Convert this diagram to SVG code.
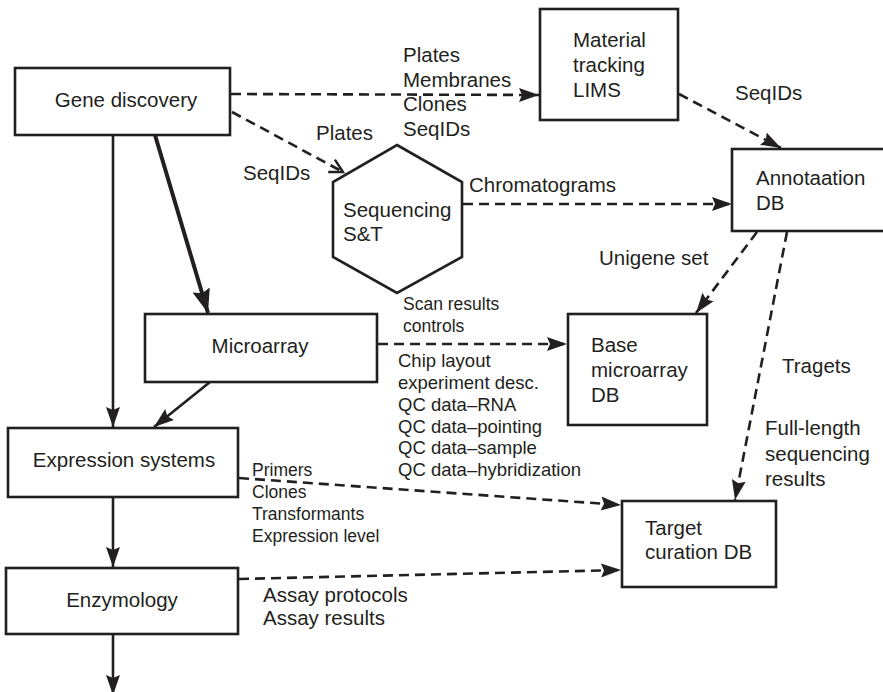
<svg xmlns="http://www.w3.org/2000/svg" width="883" height="692" viewBox="0 0 883 692">
  <style>
    .box { fill: #ffffff; stroke: #231f20; stroke-width: 2.6; }
    .t { font-family: "Liberation Sans", Arial, sans-serif; font-size: 20.5px; fill: #231f20; }
    .s { font-family: "Liberation Sans", Arial, sans-serif; font-size: 18.5px; fill: #231f20; }
    .xs { font-family: "Liberation Sans", Arial, sans-serif; font-size: 17.5px; fill: #231f20; }
    .solid { fill: none; stroke: #231f20; stroke-width: 2.6; }
    .thick { fill: none; stroke: #231f20; stroke-width: 4; }
    .dash { fill: none; stroke: #231f20; stroke-width: 2.6; stroke-dasharray: 10 6; }
  </style>
  <defs>
    <marker id="arr" markerUnits="userSpaceOnUse" markerWidth="22" markerHeight="16" refX="20" refY="8" orient="auto">
      <path d="M0,1 L20,8 L0,15 L3,8 z" fill="#231f20"/>
    </marker>
    <marker id="arrBig" markerUnits="userSpaceOnUse" markerWidth="26" markerHeight="20" refX="24" refY="10" orient="auto">
      <path d="M0,1 L24,10 L0,19 L3.5,10 z" fill="#231f20"/>
    </marker>
    <marker id="vee" markerUnits="userSpaceOnUse" markerWidth="18" markerHeight="18" refX="14" refY="9" orient="auto">
      <path d="M1,2 L14,9 L1,16" fill="none" stroke="#231f20" stroke-width="2.4"/>
    </marker>
  </defs>

  <!-- connectors -->
  <g id="connectors">
    <line class="dash" x1="231" y1="94" x2="539" y2="95" marker-end="url(#arr)"/>
    <line class="dash" x1="232" y1="112" x2="343" y2="172" marker-end="url(#vee)"/>
    <line class="solid" x1="113" y1="135" x2="113" y2="427" marker-end="url(#arr)"/>
    <line class="thick" x1="155" y1="135" x2="208" y2="313" marker-end="url(#arrBig)"/>
    <line class="solid" x1="210" y1="382" x2="154" y2="427" marker-end="url(#arr)"/>
    <line class="solid" x1="113" y1="497" x2="113" y2="567" marker-end="url(#arr)"/>
    <line class="solid" x1="113" y1="634" x2="113" y2="695" marker-end="url(#arr)"/>
    <line class="dash" x1="239" y1="478" x2="621" y2="505" marker-end="url(#arr)"/>
    <line class="dash" x1="239" y1="579" x2="621" y2="570" marker-end="url(#arr)"/>
    <line class="dash" x1="463" y1="204" x2="732" y2="204" marker-end="url(#arr)"/>
    <line class="dash" x1="679" y1="94" x2="781" y2="148" marker-end="url(#arr)"/>
    <line class="dash" x1="757" y1="232" x2="696" y2="313" marker-end="url(#arr)"/>
    <line class="dash" x1="787" y1="232" x2="735" y2="500" marker-end="url(#arr)"/>
    <line class="dash" x1="378" y1="344" x2="567" y2="344" marker-end="url(#arr)"/>
  </g>

  <!-- connector labels -->
  <g id="labels">
    <text class="t" x="403" y="62">Plates</text>
    <text class="t" x="403" y="87">Membranes</text>
    <text class="t" x="403" y="111">Clones</text>
    <text class="t" x="403" y="136">SeqIDs</text>
    <text class="t" x="316" y="140">Plates</text>
    <text class="t" x="243" y="180">SeqIDs</text>
    <text class="t" x="735" y="100">SeqIDs</text>
    <text class="t" x="469" y="192">Chromatograms</text>
    <text class="t" x="599" y="265">Unigene set</text>
    <text class="xs" x="403" y="310">Scan results</text>
    <text class="xs" x="403" y="332">controls</text>
    <text class="s" x="398" y="367">Chip layout</text>
    <text class="s" x="398" y="389">experiment desc.</text>
    <text class="s" x="398" y="411">QC data–RNA</text>
    <text class="s" x="398" y="433">QC data–pointing</text>
    <text class="s" x="398" y="454">QC data–sample</text>
    <text class="s" x="398" y="476">QC data–hybridization</text>
    <text class="t" x="782" y="373">Tragets</text>
    <text class="t" x="765" y="435">Full-length</text>
    <text class="t" x="765" y="461">sequencing</text>
    <text class="t" x="765" y="486">results</text>
    <text class="xs" x="252" y="476">Primers</text>
    <text class="xs" x="252" y="498">Clones</text>
    <text class="xs" x="252" y="520">Transformants</text>
    <text class="xs" x="252" y="542">Expression level</text>
    <text class="t" x="263" y="602">Assay protocols</text>
    <text class="t" x="263" y="625">Assay results</text>
  </g>

  <!-- nodes -->
  <g id="gene-discovery">
    <rect class="box" x="15" y="68" width="215" height="67"/>
    <text class="t" x="126" y="107" text-anchor="middle">Gene discovery</text>
  </g>
  <g id="material-tracking">
    <rect class="box" x="540" y="9" width="138" height="111"/>
    <text class="t" x="573" y="47">Material</text>
    <text class="t" x="573" y="72">tracking</text>
    <text class="t" x="573" y="97">LIMS</text>
  </g>
  <g id="sequencing">
    <polygon class="box" points="397,145 462,182 462,257 397,293 333,257 333,182"/>
    <text class="t" x="343" y="217">Sequencing</text>
    <text class="t" x="343" y="241">S&amp;T</text>
  </g>
  <g id="annotation-db">
    <rect class="box" x="732" y="149" width="160" height="82"/>
    <text class="t" x="756" y="185">Annotaation</text>
    <text class="t" x="756" y="210">DB</text>
  </g>
  <g id="microarray">
    <rect class="box" x="145" y="314" width="232" height="68"/>
    <text class="t" x="260" y="353" text-anchor="middle">Microarray</text>
  </g>
  <g id="base-microarray-db">
    <rect class="box" x="568" y="314" width="139" height="111"/>
    <text class="t" x="591" y="352">Base</text>
    <text class="t" x="591" y="377">microarray</text>
    <text class="t" x="591" y="402">DB</text>
  </g>
  <g id="expression-systems">
    <rect class="box" x="8" y="428" width="230" height="69"/>
    <text class="t" x="124" y="467" text-anchor="middle">Expression systems</text>
  </g>
  <g id="target-curation-db">
    <rect class="box" x="622" y="501" width="154" height="86"/>
    <text class="t" x="645" y="535">Target</text>
    <text class="t" x="645" y="559">curation DB</text>
  </g>
  <g id="enzymology">
    <rect class="box" x="6" y="568" width="232" height="66"/>
    <text class="t" x="122" y="607" text-anchor="middle">Enzymology</text>
  </g>
</svg>
